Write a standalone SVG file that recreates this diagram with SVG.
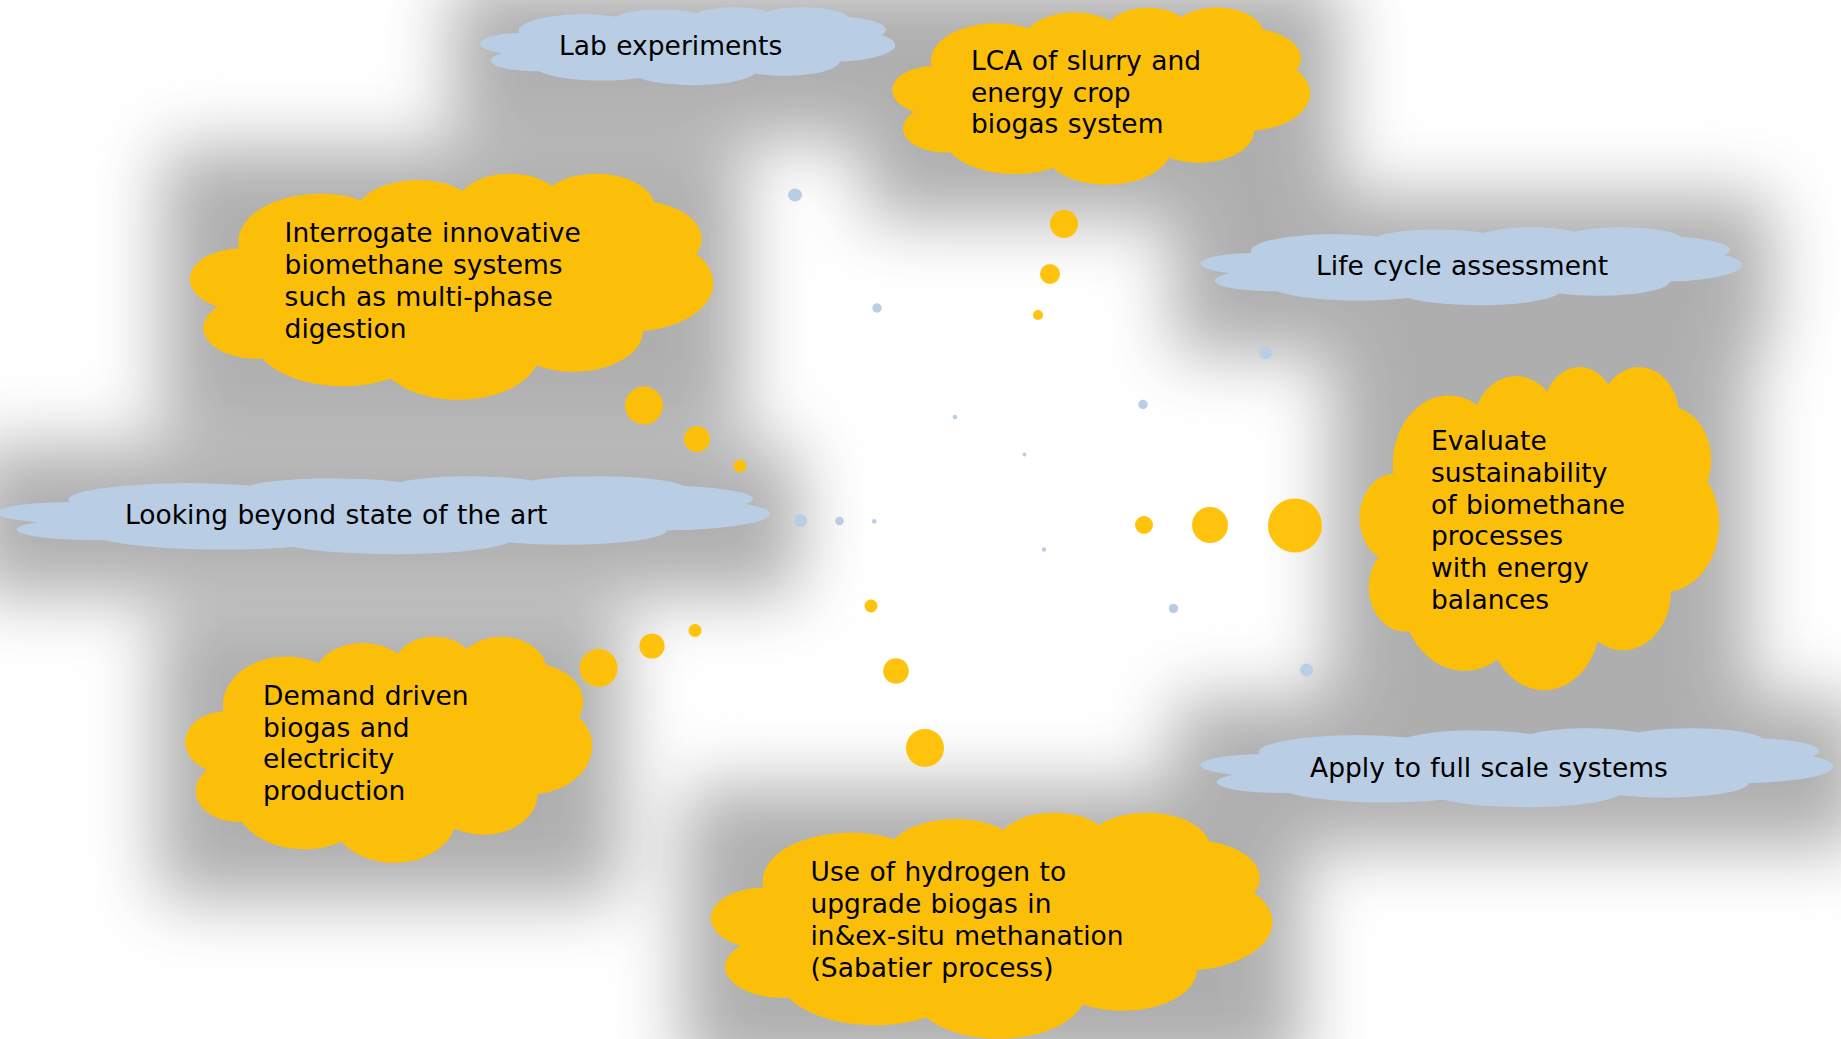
<svg xmlns="http://www.w3.org/2000/svg" xmlns:xlink="http://www.w3.org/1999/xlink" width="1841" height="1039" viewBox="0 0 1841 1039">
  <defs>
    <!-- preset cloud outline in a 1000 x 1000 box -->
    <path id="cloud" d="M90.28 332.64 A156.32 212.73 0 0 1 324.19 120.39 A123.45 168.22 0 0 1 519.86 79.47 A101.04 137.62 0 0 1 690.65 57.48 A112.43 152.66 0 0 1 887.04 129.17 A123.45 168.36 0 0 1 968.08 357.96 A156.83 213.43 0 0 1 865.88 699.21 A133.91 182.11 0 0 1 661.06 852.25 A156.30 213.31 0 0 1 381.53 908.96 A178.70 244.05 0 0 1 134.38 821.13 A100.93 136.99 0 0 1 48.96 591.41 A100.58 137.62 0 0 1 90.28 332.64 Z"/>
    <filter id="haze" filterUnits="userSpaceOnUse" x="-200" y="-200" width="2241" height="1439">
      <feGaussianBlur stdDeviation="34"/>
    </filter>
  </defs>
  <style>
    .gold { fill: #FFC000; fill-opacity: 0.95; }
    .sky { fill: #B9CDE5; }
    .shade { fill: #666666; }
    text { font-family: "DejaVu Sans", Verdana, sans-serif; font-size: 26.5px; fill: #000; word-spacing: 1px; }
  </style>

  <rect width="1841" height="1039" fill="#ffffff"/>

  <!-- soft drop shadows behind the clouds -->
  <g id="shadows" filter="url(#haze)" opacity="0.52">
    <rect class="shade" x="452" y="-20" width="473" height="160" rx="20"/>
    <rect class="shade" x="864" y="-20" width="476" height="240" rx="20"/>
    <rect class="shade" x="1173" y="195" width="599" height="160" rx="20"/>
    <rect class="shade" x="1331" y="340" width="418" height="390" rx="20"/>
    <rect class="shade" x="1173" y="698" width="690" height="150" rx="20"/>
    <rect class="shade" x="683" y="786" width="619" height="290" rx="20"/>
    <rect class="shade" x="157" y="610" width="465" height="290" rx="20"/>
    <rect class="shade" x="-30" y="446" width="830" height="150" rx="20"/>
    <rect class="shade" x="162" y="147" width="581" height="290" rx="20"/>
  </g>

  <!-- thought-bubble trails -->
  <g id="connectors">
    <circle class="gold" cx="1064" cy="224" r="14"/>
    <circle class="gold" cx="1050" cy="274" r="10"/>
    <circle class="gold" cx="1038" cy="315" r="5"/>
    <circle class="gold" cx="644" cy="405.5" r="19"/>
    <circle class="gold" cx="697" cy="439" r="13"/>
    <circle class="gold" cx="740" cy="466" r="6.5"/>
    <circle class="gold" cx="598.6" cy="668" r="19"/>
    <circle class="gold" cx="652" cy="646" r="12.6"/>
    <circle class="gold" cx="695" cy="630.5" r="6.5"/>
    <circle class="gold" cx="871" cy="606" r="6.5"/>
    <circle class="gold" cx="896" cy="671" r="12.8"/>
    <circle class="gold" cx="925" cy="748" r="19"/>
    <circle class="gold" cx="1144" cy="525" r="9"/>
    <circle class="gold" cx="1210" cy="525" r="18"/>
    <circle class="gold" cx="1295" cy="525.5" r="27"/>

    <ellipse class="sky" cx="795" cy="195" rx="7" ry="6.5"/>
    <ellipse class="sky" cx="877" cy="308" rx="4.7" ry="4.7"/>
    <ellipse class="sky" cx="955" cy="417" rx="2.3" ry="2.3"/>
    <ellipse class="sky" cx="1024.5" cy="454.5" rx="2" ry="2"/>
    <ellipse class="sky" cx="1143" cy="404.5" rx="4.7" ry="4.7"/>
    <ellipse class="sky" cx="1265.5" cy="352.7" rx="6.5" ry="6.5"/>
    <ellipse class="sky" cx="800.5" cy="520.7" rx="6.5" ry="6.5"/>
    <ellipse class="sky" cx="839.5" cy="521" rx="4.3" ry="4.3"/>
    <ellipse class="sky" cx="874.3" cy="521.3" rx="2.3" ry="2.3"/>
    <ellipse class="sky" cx="1044" cy="549.5" rx="2.2" ry="2.2"/>
    <ellipse class="sky" cx="1173.5" cy="608.5" rx="4.7" ry="4.7"/>
    <ellipse class="sky" cx="1306.5" cy="670" rx="6.5" ry="6.5"/>
  </g>

  <g id="lab-experiments">
    <use xlink:href="#cloud" class="sky" transform="translate(482 7) scale(0.413 0.078)"/>
    <text x="559" y="55">Lab experiments</text>
  </g>

  <g id="lca-slurry">
    <use xlink:href="#cloud" class="gold" transform="translate(894 7) scale(0.416 0.177)"/>
    <text x="971" y="70">LCA of slurry and<tspan x="971" dy="31.7">energy crop</tspan><tspan x="971" dy="31.7">biogas system</tspan></text>
  </g>

  <g id="life-cycle-assessment">
    <use xlink:href="#cloud" class="sky" transform="translate(1203 227) scale(0.539 0.078)"/>
    <text x="1316" y="275">Life cycle assessment</text>
  </g>

  <g id="evaluate-sustainability">
    <use xlink:href="#cloud" class="gold" transform="translate(1361 366) scale(0.358 0.323)"/>
    <text x="1431" y="450">Evaluate<tspan x="1431" dy="31.8">sustainability</tspan><tspan x="1431" dy="31.8">of biomethane</tspan><tspan x="1431" dy="31.8">processes</tspan><tspan x="1431" dy="31.8">with energy</tspan><tspan x="1431" dy="31.8">balances</tspan></text>
  </g>

  <g id="apply-full-scale">
    <use xlink:href="#cloud" class="sky" transform="translate(1203 728) scale(0.630 0.079)"/>
    <text x="1310" y="777">Apply to full scale systems</text>
  </g>

  <g id="hydrogen-upgrade">
    <use xlink:href="#cloud" class="gold" transform="translate(713 812) scale(0.559 0.226)"/>
    <text x="810.5" y="880.5">Use of hydrogen to<tspan x="810.5" dy="32">upgrade biogas in</tspan><tspan x="810.5" dy="32">in&amp;ex-situ methanation</tspan><tspan x="810.5" dy="32">(Sabatier process)</tspan></text>
  </g>

  <g id="demand-driven">
    <use xlink:href="#cloud" class="gold" transform="translate(187 636) scale(0.405 0.226)"/>
    <text x="263" y="705">Demand driven<tspan x="263" dy="31.7">biogas and</tspan><tspan x="263" dy="31.7">electricity</tspan><tspan x="263" dy="31.7">production</tspan></text>
  </g>

  <g id="looking-beyond">
    <use xlink:href="#cloud" class="sky" transform="translate(0 476) scale(0.770 0.078)"/>
    <text x="125" y="523.5">Looking beyond state of the art</text>
  </g>

  <g id="interrogate-systems">
    <use xlink:href="#cloud" class="gold" transform="translate(192 173) scale(0.521 0.226)"/>
    <text x="284.6" y="241.7">Interrogate innovative<tspan x="284.6" dy="32.1">biomethane systems</tspan><tspan x="284.6" dy="32.1">such as multi-phase</tspan><tspan x="284.6" dy="32.1">digestion</tspan></text>
  </g>
</svg>
